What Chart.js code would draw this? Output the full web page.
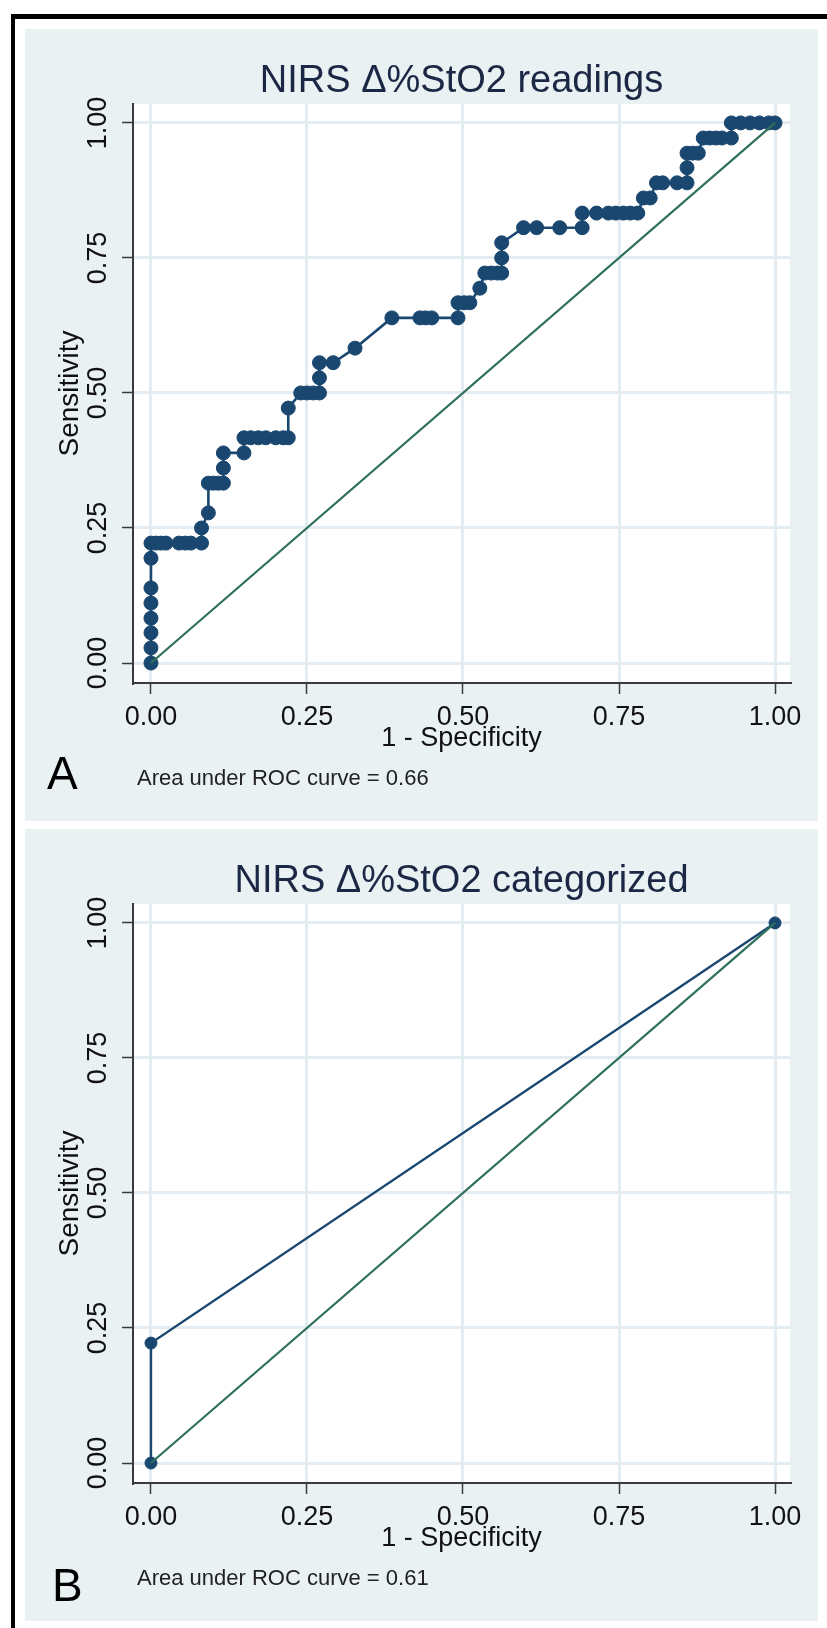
<!DOCTYPE html>
<html>
<head>
<meta charset="utf-8">
<script src="https://cdn.jsdelivr.net/npm/chart.js@4.4.1/dist/chart.umd.min.js"></script>
<style>
  html, body { margin: 0; padding: 0; background: #ffffff; }
  body { width: 827px; height: 1628px; position: relative; overflow: hidden; }
  .frame {
    position: absolute; left: 11px; top: 14px; width: 840px; height: 1640px;
    border-top: 5px solid #000; border-left: 4px solid #000;
  }
  .panel { position: absolute; left: 25px; width: 793px; height: 792px; }
  #panelA { top: 29px; }
  #panelB { top: 829px; }
</style>
</head>
<body>
<div class="frame"></div>
<div class="panel" id="panelA"><canvas id="rocA" width="793" height="792"></canvas></div>
<div class="panel" id="panelB"><canvas id="rocB" width="793" height="792"></canvas></div>
<script>
// Panel A: NIRS readings ROC (1 - specificity, sensitivity)
const fprA = [
    0, 0, 0, 0, 0, 0, 0, 0,
    0.008, 0.016, 0.024, 0.045, 0.055, 0.064, 0.081, 0.081,
    0.092, 0.092, 0.100, 0.108, 0.116, 0.116, 0.116, 0.149,
    0.149, 0.160, 0.172, 0.184, 0.200, 0.212, 0.220, 0.220,
    0.240, 0.250, 0.260, 0.270, 0.270, 0.270, 0.292, 0.327,
    0.386, 0.431, 0.440, 0.450, 0.492, 0.492, 0.502, 0.511,
    0.527, 0.535, 0.545, 0.555, 0.562, 0.562, 0.562, 0.597,
    0.618, 0.655, 0.691, 0.691, 0.714, 0.733, 0.745, 0.757,
    0.768, 0.780, 0.789, 0.800, 0.810, 0.820, 0.843, 0.859,
    0.859, 0.859, 0.868, 0.877, 0.885, 0.895, 0.905, 0.915,
    0.930, 0.930, 0.945, 0.960, 0.975, 0.990, 1
];
const sensA = [
    0, 0.028, 0.056, 0.083, 0.111, 0.139, 0.194, 0.222,
    0.222, 0.222, 0.222, 0.222, 0.222, 0.222, 0.222, 0.250,
    0.278, 0.333, 0.333, 0.333, 0.333, 0.361, 0.389, 0.389,
    0.417, 0.417, 0.417, 0.417, 0.417, 0.417, 0.417, 0.472,
    0.500, 0.500, 0.500, 0.500, 0.528, 0.556, 0.556, 0.583,
    0.639, 0.639, 0.639, 0.639, 0.639, 0.667, 0.667, 0.667,
    0.694, 0.722, 0.722, 0.722, 0.722, 0.750, 0.778, 0.806,
    0.806, 0.806, 0.806, 0.833, 0.833, 0.833, 0.833, 0.833,
    0.833, 0.833, 0.861, 0.861, 0.889, 0.889, 0.889, 0.889,
    0.917, 0.944, 0.944, 0.944, 0.972, 0.972, 0.972, 0.972,
    0.972, 1, 1, 1, 1, 1, 1
];

// Panel B: NIRS categorized ROC
const fprB = [0, 0, 1];
const sensB = [0, 0.222, 1];

// Reference (chance) line
const refX = [0, 1];
const refY = [0, 1];

const tickVals = [0, 0.25, 0.5, 0.75, 1];
const tickLabels = ['0.00', '0.25', '0.50', '0.75', '1.00'];

const FONT = '"Liberation Sans", Arial, sans-serif';
const PANEL_BG = '#e9f1f3';
const GRID = '#e3edf1';
const NAVY = '#1a476f';
const GREEN = '#2e705c';

function toPoints(xs, ys) {
    return xs.map((x, i) => ({ x: x, y: ys[i] }));
}

// fills the graph region and the white plot region
const backgroundPlugin = {
    id: 'statBackground',
    beforeDraw(chart) {
        const ctx = chart.ctx;
        const a = chart.chartArea;
        ctx.save();
        ctx.fillStyle = PANEL_BG;
        ctx.fillRect(0, 0, chart.width, chart.height);
        ctx.fillStyle = '#ffffff';
        ctx.fillRect(a.left, a.top, a.right - a.left, a.bottom - a.top);
        ctx.restore();
    }
};

// all the text: title, tick labels, axis titles, panel letter, AUC note
const textPlugin = {
    id: 'statText',
    afterDraw(chart, args, opts) {
        const ctx = chart.ctx;
        const xs = chart.scales.x;
        const ys = chart.scales.y;
        const a = chart.chartArea;
        const cx = (a.left + a.right) / 2;
        ctx.save();

        ctx.fillStyle = '#1b2744';
        ctx.font = '38px ' + FONT;
        ctx.textAlign = 'center';
        ctx.textBaseline = 'alphabetic';
        ctx.fillText(opts.title, cx, 63);

        ctx.fillStyle = '#111111';
        ctx.font = '27px ' + FONT;
        tickVals.forEach((v, i) => {
            ctx.fillText(tickLabels[i], xs.getPixelForValue(v), 696);
        });
        ctx.fillText('1 - Specificity', cx, 717);

        tickVals.forEach((v, i) => {
            ctx.save();
            ctx.translate(74, ys.getPixelForValue(v));
            ctx.rotate(-Math.PI / 2);
            ctx.textBaseline = 'middle';
            ctx.fillText(tickLabels[i], 0, 0);
            ctx.restore();
        });

        ctx.save();
        ctx.translate(45, (a.top + a.bottom) / 2);
        ctx.rotate(-Math.PI / 2);
        ctx.textBaseline = 'middle';
        ctx.font = '28px ' + FONT;
        ctx.fillText('Sensitivity', 0, 0);
        ctx.restore();

        ctx.textAlign = 'left';
        ctx.fillStyle = '#000000';
        ctx.font = '46px ' + FONT;
        ctx.fillText(opts.letter, opts.letterX, opts.letterY);

        ctx.fillStyle = '#222222';
        ctx.font = '22px ' + FONT;
        ctx.fillText(opts.note, 112, 756);
        ctx.restore();
    }
};

function renderRoc(canvasId, rocX, rocY, lineWidth, markerRadius, text) {
    const ctx = document.getElementById(canvasId);
    if (!ctx) {
        console.error('Canvas element not found:', canvasId);
        return null;
    }

    const axisCommon = {
        type: 'linear',
        afterBuildTicks: function(scale) {
            scale.ticks = tickVals.map(v => ({ value: v }));
        },
        grid: {
            color: GRID,
            lineWidth: 3,
            drawTicks: true,
            tickLength: 11,
            tickColor: '#3a3a3a',
            tickWidth: 1.5
        },
        border: {
            display: true,
            color: '#3a3a3a',
            width: 2
        },
        ticks: {
            display: false
        }
    };

    const config = {
        type: 'scatter',
        data: {
            datasets: [{
                // reference line drawn on top (dataset 0 is painted last)
                data: toPoints(refX, refY),
                showLine: true,
                borderColor: GREEN,
                borderWidth: 2.2,
                pointRadius: 0
            }, {
                data: toPoints(rocX, rocY),
                showLine: true,
                tension: 0,
                borderColor: NAVY,
                borderWidth: lineWidth,
                pointRadius: markerRadius,
                pointBackgroundColor: NAVY,
                pointBorderColor: NAVY,
                pointBorderWidth: 1
            }]
        },
        options: {
            responsive: false,
            animation: false,
            devicePixelRatio: 1,
            layout: {
                padding: { left: 0, top: 75, right: 28, bottom: 0 }
            },
            plugins: {
                legend: { display: false },
                tooltip: { enabled: false },
                statText: text
            },
            scales: {
                x: Object.assign({}, axisCommon, {
                    min: -0.0288,
                    max: 1.024,
                    afterFit: function(scale) { scale.height = 138; }
                }),
                y: Object.assign({}, axisCommon, {
                    min: -0.037,
                    max: 1.035,
                    afterFit: function(scale) { scale.width = 108; }
                })
            }
        },
        plugins: [backgroundPlugin, textPlugin]
    };

    return new Chart(ctx, config);
}

renderRoc('rocA', fprA, sensA, 2.6, 7, {
    title: 'NIRS \u0394%StO2 readings',
    letter: 'A', letterX: 22, letterY: 760,
    note: 'Area under ROC curve = 0.66'
});

renderRoc('rocB', fprB, sensB, 2.4, 6, {
    title: 'NIRS \u0394%StO2 categorized',
    letter: 'B', letterX: 27, letterY: 772,
    note: 'Area under ROC curve = 0.61'
});
</script>
</body>
</html>
